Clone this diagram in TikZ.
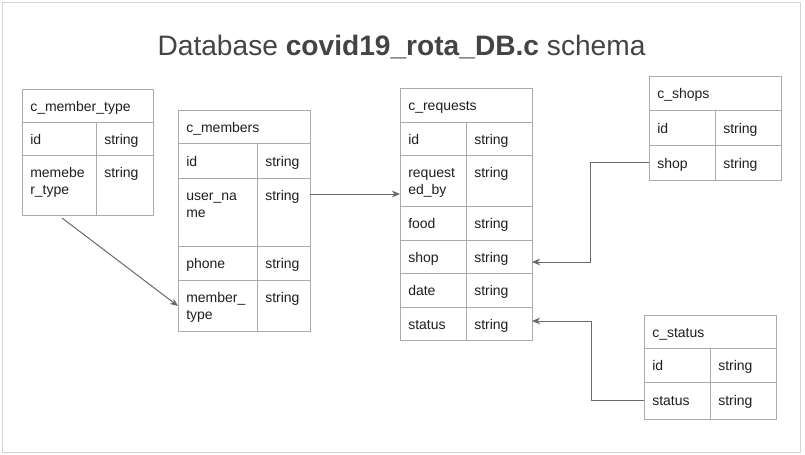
\documentclass[tikz,border=0pt]{standalone}
\usepackage{fontspec}
\setmainfont{Liberation Sans}
\usetikzlibrary{arrows.meta}
\definecolor{gridc}{HTML}{ABABAB}
\definecolor{txtc}{HTML}{1F1F1F}
\definecolor{titlec}{HTML}{444444}
\definecolor{linec}{HTML}{6A6A6A}
\definecolor{framec}{HTML}{D4D4D4}
\tikzset{
  cell/.style={draw=gridc, line width=0.75pt, anchor=north west, inner sep=0pt, outer sep=0pt},
  txt/.style={anchor=base west, inner sep=0pt, text=txtc, font=\fontsize{10.5}{12.75}\selectfont},
  conn/.style={draw=linec, line width=0.75pt, -{Stealth[length=6pt,width=5pt,inset=1.8pt]}},
}
% cell: name, x, y, width, height (px)
\newcommand\tblcell[5]{\node[cell,minimum width={(#4)*0.75pt},minimum height={(#5)*0.75pt}] (#1) at (#2,#3) {};}
% text: name, x, baseline y, text
\newcommand\tbltxt[4]{\node[txt] (#1) at ({#2+8},{#3}) {#4};}
\begin{document}
\begin{tikzpicture}[x=0.75pt,y=-0.75pt]
\useasboundingbox (0,0) rectangle (805,454);
\fill[white] (0,0) rectangle (805,454);
\draw[framec, line width=0.75pt] (2,2) rectangle (800,452);

% title
\node[anchor=base, inner sep=0pt, text=titlec, font=\fontsize{21.1}{25}\selectfont] (title) at (401.5,55.5)
  {Database \textbf{covid19\_rota\_DB.c} schema};

% ---------- c_member_type ----------
\tblcell{mth}{22}{89}{131}{33}
\tbltxt{mtht}{22}{111}{c\_member\_type}
\tblcell{mtidk}{22}{122}{74}{33}
\tblcell{mtidv}{96}{122}{57}{33}
\tbltxt{mtidkt}{22}{144}{id}
\tbltxt{mtidvt}{96}{144}{string}
\tblcell{mttk}{22}{155}{74}{60}
\tblcell{mttv}{96}{155}{57}{60}
\tbltxt{mttka}{22}{177}{memebe}
\tbltxt{mttkb}{22}{194}{r\_type}
\tbltxt{mttvt}{96}{177}{string}

% ---------- c_members ----------
\tblcell{mmh}{178}{110}{132}{33}
\tbltxt{mmht}{178}{132}{c\_members}
\tblcell{mmidk}{178}{143}{79}{35}
\tblcell{mmidv}{257}{143}{53}{35}
\tbltxt{mmidkt}{178}{166}{id}
\tbltxt{mmidvt}{257}{166}{string}
\tblcell{mmunk}{178}{178}{79}{68}
\tblcell{mmunv}{257}{178}{53}{68}
\tbltxt{mmunka}{178}{200}{user\_na}
\tbltxt{mmunkb}{178}{217}{me}
\tbltxt{mmunvt}{257}{200}{string}
\tblcell{mmphk}{178}{246}{79}{34}
\tblcell{mmphv}{257}{246}{53}{34}
\tbltxt{mmphkt}{178}{268}{phone}
\tbltxt{mmphvt}{257}{268}{string}
\tblcell{mmmtk}{178}{280}{79}{51}
\tblcell{mmmtv}{257}{280}{53}{51}
\tbltxt{mmmtka}{178}{302}{member\_}
\tbltxt{mmmtkb}{178}{319}{type}
\tbltxt{mmmtvt}{257}{302}{string}

% ---------- c_requests ----------
\tblcell{rqh}{400}{88}{132}{34}
\tbltxt{rqht}{400}{110}{c\_requests}
\tblcell{rqidk}{400}{122}{66}{33}
\tblcell{rqidv}{466}{122}{66}{33}
\tbltxt{rqidkt}{400}{144}{id}
\tbltxt{rqidvt}{466}{144}{string}
\tblcell{rqrbk}{400}{155}{66}{51}
\tblcell{rqrbv}{466}{155}{66}{51}
\tbltxt{rqrbka}{400}{177}{request}
\tbltxt{rqrbkb}{400}{194}{ed\_by}
\tbltxt{rqrbvt}{466}{177}{string}
\tblcell{rqfdk}{400}{206}{66}{34}
\tblcell{rqfdv}{466}{206}{66}{34}
\tbltxt{rqfdkt}{400}{228}{food}
\tbltxt{rqfdvt}{466}{228}{string}
\tblcell{rqshk}{400}{240}{66}{33}
\tblcell{rqshv}{466}{240}{66}{33}
\tbltxt{rqshkt}{400}{262}{shop}
\tbltxt{rqshvt}{466}{262}{string}
\tblcell{rqdtk}{400}{273}{66}{34}
\tblcell{rqdtv}{466}{273}{66}{34}
\tbltxt{rqdtkt}{400}{295}{date}
\tbltxt{rqdtvt}{466}{295}{string}
\tblcell{rqstk}{400}{307}{66}{33}
\tblcell{rqstv}{466}{307}{66}{33}
\tbltxt{rqstkt}{400}{329}{status}
\tbltxt{rqstvt}{466}{329}{string}

% ---------- c_shops ----------
\tblcell{shh}{649}{76}{132}{34}
\tbltxt{shht}{649}{98}{c\_shops}
\tblcell{shidk}{649}{110}{66}{35}
\tblcell{shidv}{715}{110}{66}{35}
\tbltxt{shidkt}{649}{133}{id}
\tbltxt{shidvt}{715}{133}{string}
\tblcell{shshk}{649}{145}{66}{35}
\tblcell{shshv}{715}{145}{66}{35}
\tbltxt{shshkt}{649}{168}{shop}
\tbltxt{shshvt}{715}{168}{string}

% ---------- c_status ----------
\tblcell{sth}{644}{315}{132}{33}
\tbltxt{stht}{644}{337}{c\_status}
\tblcell{stidk}{644}{348}{66}{34}
\tblcell{stidv}{710}{348}{66}{34}
\tbltxt{stidkt}{644}{370}{id}
\tbltxt{stidvt}{710}{370}{string}
\tblcell{ststk}{644}{382}{66}{37}
\tblcell{ststv}{710}{382}{66}{37}
\tbltxt{ststkt}{644}{405}{status}
\tbltxt{ststvt}{710}{405}{string}

% ---------- connectors ----------
\coordinate (c1) at (62,218);
\draw[conn] (c1) -- (mmmtk.west |- 0,306);
\coordinate (c2) at (310,194);
\draw[conn] (c2) -- (c2 -| rqrbk.west);
\draw[conn] (shshk.west) -- (590,162.5) -- (590,262) -- (rqshv.east |- 0,262);
\draw[conn] (ststk.west) -- (591,400.5) -- (591,321) -- (rqstv.east |- 0,321);
\end{tikzpicture}
\end{document}
